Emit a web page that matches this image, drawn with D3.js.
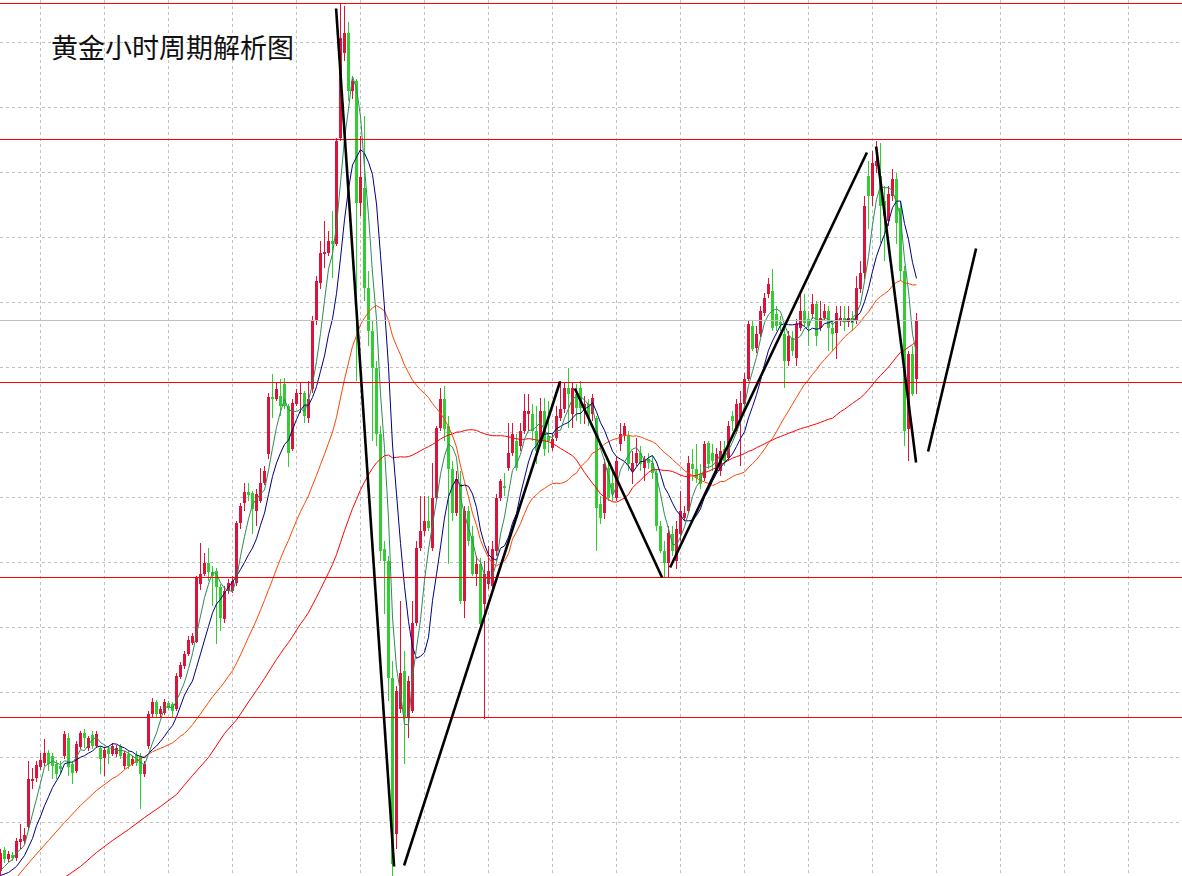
<!DOCTYPE html>
<html>
<head>
<meta charset="utf-8">
<script src="https://cdn.jsdelivr.net/npm/d3@7"></script>
<style>
  body { margin: 0; background: #fff; }
  svg { display: block; }
</style>
</head>
<body>
<script>
// hourly gold bars, one row per bar: [open, high, low, close]
const ohlc = [
  [2363.0,2365.2,2362.4,2364.8],[2365.1,2365.4,2363.8,2364.2],[2364.2,2365.0,2363.9,2364.7],[2364.6,2364.9,2364.0,2364.3],[2364.3,2366.3,2364.0,2366.0],
  [2365.9,2367.7,2365.2,2366.2],[2366.0,2367.3,2365.7,2366.6],[2367.4,2374.0,2367.1,2372.2],[2372.0,2373.3,2371.2,2372.2],[2372.3,2374.0,2371.9,2373.6],
  [2373.4,2374.8,2373.1,2374.1],[2373.8,2376.2,2373.5,2374.8],[2374.8,2375.1,2373.0,2373.7],[2374.5,2374.8,2372.2,2373.5],[2373.7,2374.1,2372.2,2372.7],
  [2373.5,2374.0,2372.8,2373.2],[2374.5,2377.0,2374.2,2376.7],[2376.3,2376.8,2372.5,2373.4],[2373.7,2374.0,2371.7,2372.8],[2373.0,2376.0,2372.8,2375.7],
  [2375.4,2377.0,2375.2,2376.8],[2376.8,2377.2,2375.3,2376.3],[2375.3,2376.5,2375.0,2376.3],[2376.6,2377.0,2375.2,2375.5],[2375.5,2377.0,2375.3,2376.7],
  [2375.3,2375.5,2372.7,2374.2],[2374.3,2375.4,2372.5,2375.1],[2375.2,2375.5,2373.7,2374.7],[2374.7,2375.8,2374.5,2375.5],[2374.7,2375.6,2374.4,2375.3],
  [2375.5,2375.7,2374.2,2374.5],[2373.5,2375.0,2373.2,2374.8],[2374.7,2375.0,2373.2,2373.5],[2373.7,2374.5,2373.5,2374.2],[2374.6,2375.0,2373.5,2373.8],
  [2374.5,2374.8,2369.2,2372.7],[2372.7,2374.0,2372.4,2373.7],[2375.5,2379.0,2375.2,2378.7],[2378.7,2380.3,2378.4,2379.9],[2379.9,2380.1,2378.4,2378.7],
  [2378.7,2379.5,2378.4,2379.2],[2378.8,2380.2,2378.6,2379.9],[2379.8,2380.0,2379.1,2379.3],[2379.7,2379.9,2378.4,2379.0],[2379.2,2382.8,2379.0,2382.5],
  [2382.4,2383.9,2382.2,2383.6],[2383.5,2385.0,2383.2,2384.7],[2384.7,2386.5,2384.5,2386.1],[2385.8,2386.8,2385.6,2386.5],[2385.9,2392.5,2385.8,2392.3],
  [2391.7,2395.8,2391.1,2392.7],[2392.7,2394.8,2392.5,2393.8],[2393.8,2395.3,2392.0,2392.9],[2392.9,2393.5,2389.5,2392.5],[2393.0,2393.3,2385.7,2391.4],
  [2391.4,2391.7,2387.0,2388.3],[2388.2,2391.5,2387.8,2391.0],[2391.0,2392.2,2390.7,2391.8],[2391.0,2392.5,2390.8,2392.0],[2391.8,2398.0,2391.5,2397.8],
  [2397.8,2399.8,2397.2,2399.5],[2399.8,2401.8,2399.0,2400.9],[2400.9,2401.8,2400.0,2400.6],[2400.8,2401.0,2396.7,2399.2],[2399.0,2401.2,2397.5,2400.7],
  [2400.0,2403.3,2399.8,2401.8],[2401.8,2403.5,2401.6,2403.0],[2404.7,2410.8,2404.2,2410.4],[2410.4,2412.7,2408.3,2410.2],[2410.2,2411.8,2410.0,2411.2],
  [2410.5,2412.2,2408.5,2409.5],[2411.7,2412.3,2409.2,2409.5],[2409.5,2409.7,2403.4,2404.8],[2405.2,2410.2,2405.0,2409.8],[2409.7,2411.2,2409.5,2410.8],
  [2410.7,2411.9,2408.8,2410.8],[2410.8,2411.0,2407.8,2408.5],[2408.3,2412.0,2407.8,2410.2],[2411.2,2418.5,2410.8,2418.0],[2418.0,2422.5,2417.6,2422.0],
  [2421.8,2426.0,2421.2,2424.8],[2424.7,2428.0,2423.3,2424.9],[2424.8,2427.0,2424.5,2426.0],[2426.0,2429.0,2422.3,2425.7],[2425.7,2436.3,2425.5,2436.0],
  [2436.3,2449.7,2436.0,2446.3],[2444.8,2449.5,2444.0,2446.8],[2446.8,2447.9,2440.0,2441.0],[2441.0,2442.2,2440.2,2442.0],[2442.0,2442.2,2412.0,2429.8],
  [2429.8,2436.5,2428.5,2432.4],[2431.3,2438.5,2420.0,2421.3],[2421.3,2423.0,2415.5,2417.0],[2417.0,2418.0,2406.0,2413.3],[2413.3,2414.0,2405.5,2406.7],
  [2406.7,2407.5,2394.0,2395.0],[2395.2,2396.0,2388.7,2394.0],[2394.0,2394.5,2380.0,2382.3],[2382.3,2384.0,2362.4,2363.7],[2366.7,2381.5,2365.2,2381.0],
  [2379.2,2390.0,2378.8,2382.8],[2383.0,2385.0,2373.7,2378.3],[2378.3,2382.5,2376.3,2382.0],[2379.0,2390.0,2378.8,2387.8],[2387.8,2396.0,2387.5,2395.3],
  [2395.3,2400.5,2395.0,2397.0],[2397.0,2400.5,2396.5,2398.0],[2398.0,2400.5,2397.0,2397.3],[2395.3,2403.8,2395.0,2400.3],[2400.3,2407.5,2400.0,2407.3],
  [2407.3,2411.3,2407.0,2410.2],[2410.2,2411.5,2406.0,2407.2],[2407.5,2408.5,2393.7,2403.2],[2403.2,2404.0,2398.0,2398.8],[2398.8,2403.0,2398.5,2402.2],
  [2401.7,2403.0,2389.7,2390.0],[2390.0,2399.5,2388.3,2399.0],[2399.0,2399.5,2395.5,2396.0],[2396.5,2397.5,2392.5,2392.7],[2392.7,2394.5,2391.5,2393.7],
  [2393.7,2394.3,2387.0,2387.7],[2389.7,2394.0,2378.2,2392.7],[2391.7,2395.5,2391.2,2393.0],[2391.5,2396.0,2391.0,2395.2],[2395.0,2400.7,2394.5,2400.3],
  [2400.3,2402.2,2400.0,2402.0],[2401.5,2402.8,2400.5,2401.3],[2403.3,2407.8,2403.0,2404.8],[2404.8,2407.8,2404.5,2406.7],[2406.0,2406.7,2403.0,2403.3],
  [2405.5,2407.8,2405.0,2407.0],[2407.0,2410.7,2406.7,2409.0],[2408.7,2410.7,2407.0,2409.0],[2408.7,2409.7,2406.0,2407.0],[2407.0,2409.5,2403.7,2405.0],
  [2406.0,2410.3,2405.5,2409.0],[2409.0,2410.3,2404.5,2405.2],[2406.5,2410.0,2404.8,2406.0],[2405.3,2406.7,2405.0,2406.2],[2406.3,2409.5,2406.0,2408.5],
  [2408.3,2412.0,2408.0,2409.2],[2409.2,2411.9,2408.8,2411.3],[2411.3,2413.3,2407.3,2410.7],[2408.7,2411.8,2407.3,2411.3],[2410.7,2411.7,2408.0,2409.3],
  [2411.3,2412.0,2407.7,2409.3],[2409.0,2410.5,2407.7,2409.7],[2409.7,2410.2,2407.5,2408.3],[2408.7,2410.7,2408.0,2410.3],[2408.3,2408.5,2395.0,2399.3],
  [2399.7,2400.5,2397.7,2398.3],[2398.8,2404.2,2398.2,2403.7],[2403.3,2404.0,2400.0,2400.3],[2401.8,2403.0,2400.0,2400.7],[2400.3,2404.5,2400.0,2404.0],
  [2405.7,2407.8,2405.0,2406.7],[2406.5,2407.8,2406.0,2407.5],[2406.5,2407.0,2403.0,2403.7],[2403.0,2405.0,2401.7,2403.8],[2403.8,2406.3,2403.5,2404.8],
  [2404.8,2405.5,2403.0,2403.7],[2403.3,2404.5,2402.0,2404.2],[2404.2,2404.8,2403.2,2403.8],[2403.8,2404.5,2402.2,2402.8],[2402.8,2403.2,2397.0,2397.5],
  [2397.5,2398.0,2394.8,2395.0],[2395.0,2396.0,2392.3,2393.8],[2393.8,2397.5,2392.3,2396.8],[2396.7,2397.5,2394.5,2395.0],[2394.0,2398.0,2393.2,2397.2],
  [2396.7,2401.0,2396.0,2399.0],[2398.3,2399.5,2398.0,2398.8],[2399.0,2404.5,2398.8,2403.8],[2403.7,2405.2,2402.0,2403.2],[2403.2,2405.7,2401.8,2402.3],
  [2402.7,2403.7,2401.2,2401.7],[2402.3,2406.0,2402.0,2405.7],[2405.8,2406.0,2403.2,2403.7],[2404.8,2405.7,2403.0,2404.0],[2403.0,2405.3,2402.7,2404.7],
  [2403.0,2406.0,2402.5,2405.0],[2405.2,2406.0,2403.5,2404.0],[2404.3,2408.0,2404.0,2407.5],[2408.5,2409.0,2407.0,2408.0],[2407.0,2410.2,2406.7,2409.7],
  [2408.3,2411.0,2403.5,2409.8],[2409.7,2412.8,2409.5,2412.2],[2412.2,2418.0,2412.0,2417.7],[2417.5,2418.0,2415.0,2415.2],[2415.3,2417.5,2414.8,2416.7],
  [2416.7,2419.5,2416.4,2419.0],[2418.8,2420.8,2418.5,2420.3],[2420.7,2422.3,2420.3,2421.7],[2421.0,2423.2,2417.0,2417.3],[2418.7,2419.5,2417.0,2417.5],
  [2417.9,2418.5,2417.0,2417.6],[2416.7,2417.5,2411.3,2414.0],[2414.0,2417.0,2413.5,2416.5],[2416.3,2417.0,2414.5,2415.0],[2414.3,2418.2,2413.5,2417.7],
  [2417.3,2420.8,2417.0,2419.0],[2419.0,2420.7,2417.5,2417.8],[2418.2,2419.0,2415.5,2417.5],[2418.7,2420.7,2418.2,2419.7],[2419.7,2420.0,2415.5,2416.5],
  [2417.3,2420.0,2417.0,2418.3],[2418.3,2419.7,2418.0,2419.0],[2419.0,2419.5,2415.0,2417.3],[2417.3,2418.0,2415.0,2416.7],[2416.8,2419.5,2414.2,2418.8],
  [2418.0,2419.5,2417.5,2418.3],[2418.3,2419.5,2417.0,2418.0],[2417.9,2419.5,2417.4,2418.3],[2418.3,2419.0,2417.0,2417.8],[2418.0,2422.5,2417.7,2421.3],
  [2421.2,2424.0,2420.8,2422.8],[2422.8,2430.5,2422.2,2429.5],[2432.5,2434.0,2427.2,2430.5],[2430.5,2435.0,2429.5,2433.8],[2433.5,2436.0,2432.8,2434.0],
  [2432.5,2435.8,2425.8,2429.5],[2430.0,2431.5,2424.0,2428.5],[2428.0,2431.5,2427.5,2430.7],[2430.5,2433.2,2430.0,2432.2],[2432.2,2432.8,2425.7,2427.8],
  [2429.3,2430.0,2422.0,2423.0],[2423.0,2423.5,2405.5,2407.0],[2407.2,2415.0,2404.0,2414.7],[2414.7,2415.5,2410.5,2410.7],[2412.2,2418.8,2410.7,2418.0]
];

// moving averages before their window is complete
const lead5Bars = [0, 1, 2, 3];
const lead5 = [2363.0, 2363.4, 2363.8, 2364.1];
const lead10Bars = [0, 2, 4, 6, 8];
const lead10 = [2362.5, 2362.8, 2363.4, 2364.5, 2366.2];
const lead30Bars = [4, 8, 12, 16, 20, 24, 28];
const lead30 = [2362.3, 2364.2, 2366.0, 2367.8, 2369.5, 2371.0, 2372.2];
const lead60Bars = [16, 20, 24, 28, 32, 36, 40, 44, 48, 52, 56];
const lead60 = [2362.3, 2363.4, 2364.8, 2366.0, 2367.1, 2368.3, 2369.4, 2370.6, 2372.5, 2374.3, 2376.7];

// horizontal levels
const levelPrices = [2449.7, 2436.1, 2411.8, 2392.3, 2378.3];
const bidPrice = 2418.0;

// grid
const gridPrices = [2445.8, 2439.3, 2432.8, 2426.3, 2419.8, 2413.3, 2406.8, 2400.3, 2393.8, 2387.3, 2380.8, 2374.3, 2367.8];
const gridBars = [10, 26, 42, 58, 74, 90, 106, 122, 138, 154, 170, 186, 202, 218, 234, 250, 266, 282];

// hand drawn trend lines: [barFrom, priceFrom, barTo, priceTo]
const trendLines = [
  [83.9, 2449.2, 98.4, 2363.4],
  [100.9, 2363.5, 139.9, 2411.9],
  [143.6, 2411.2, 165.4, 2392.3],
  [167.4, 2393.3, 216.6, 2434.8],
  [218.9, 2435.4, 228.9, 2403.8],
  [231.9, 2404.9, 243.9, 2425.2]
];

const W = 1182, H = 876;

let svg = d3.select('body').append('svg')
    .attr('width', W)
    .attr('height', H)
    .style('background-color', 'white');

let x = d3.scaleLinear().domain([0, 295]).range([0.5, 1180.5]);
let y = d3.scaleLinear().domain([2362.4, 2450]).range([876.5, 0.5]);

// dashed grid
svg.selectAll('.vgrid')
    .data(gridBars)
    .enter()
    .append('line')
    .attr('class', 'vgrid')
    .attr('x1', d => x(d)).attr('x2', d => x(d))
    .attr('y1', 0).attr('y2', H)
    .attr('stroke', '#c0c0c0')
    .attr('stroke-dasharray', '3,3');

svg.selectAll('.hgrid')
    .data(gridPrices)
    .enter()
    .append('line')
    .attr('class', 'hgrid')
    .attr('x1', 0).attr('x2', W)
    .attr('y1', d => y(d)).attr('y2', d => y(d))
    .attr('stroke', '#c0c0c0')
    .attr('stroke-dasharray', '3,3');

// candles: red = up, green = down
let candleColor = d => d[3] >= d[0] ? '#dc143c' : '#32cd32';
let bars = svg.append('g').attr('shape-rendering', 'crispEdges');

bars.selectAll('.wick')
    .data(ohlc)
    .enter()
    .append('line')
    .attr('class', 'wick')
    .attr('x1', (d, i) => x(i)).attr('x2', (d, i) => x(i))
    .attr('y1', d => y(d[1])).attr('y2', d => y(d[2]))
    .attr('stroke', candleColor);

bars.selectAll('.body')
    .data(ohlc)
    .enter()
    .append('rect')
    .attr('class', 'body')
    .attr('x', (d, i) => x(i) - 1.5)
    .attr('width', 3)
    .attr('y', d => y(Math.max(d[0], d[3])))
    .attr('height', d => Math.max(1, Math.abs(y(d[0]) - y(d[3]))))
    .attr('fill', candleColor);

// simple moving averages of the closes
let closes = ohlc.map(d => d[3]);
function sma(n) {
    let out = [];
    for (let i = n - 1; i < closes.length; i++) {
        out.push([i, d3.mean(closes.slice(i - n + 1, i + 1))]);
    }
    return out;
}

let maLine = d3.line().x(d => x(d[0])).y(d => y(d[1]));
let maSets = [
    [lead60Bars, lead60, 60, '#ff0000'],
    [lead30Bars, lead30, 30, '#ff4500'],
    [lead10Bars, lead10, 10, '#000080'],
    [lead5Bars, lead5, 5, '#2e8b57']
];
maSets.forEach(m => {
    let pts = m[0].map((b, j) => [b, m[1][j]]).concat(sma(m[2]));
    svg.append('path')
        .datum(pts)
        .attr('d', maLine)
        .attr('fill', 'none')
        .attr('stroke', m[3])
        .attr('stroke-width', 1);
});

// levels
let levels = svg.append('g').attr('shape-rendering', 'crispEdges');
levels.selectAll('.level')
    .data(levelPrices)
    .enter()
    .append('line')
    .attr('class', 'level')
    .attr('x1', 0).attr('x2', W)
    .attr('y1', d => y(d)).attr('y2', d => y(d))
    .attr('stroke', '#ff0000');

levels.append('line')
    .attr('x1', 0).attr('x2', W)
    .attr('y1', y(bidPrice)).attr('y2', y(bidPrice))
    .attr('stroke', '#c0c0c0');

// trend lines
svg.selectAll('.trend')
    .data(trendLines)
    .enter()
    .append('line')
    .attr('class', 'trend')
    .attr('x1', d => x(d[0])).attr('y1', d => y(d[1]))
    .attr('x2', d => x(d[2])).attr('y2', d => y(d[3]))
    .attr('stroke', '#000')
    .attr('stroke-width', 2.6);

svg.append('text')
    .attr('x', 51)
    .attr('y', 58)
    .attr('font-family', '"Noto Sans CJK SC", "Noto Sans", sans-serif')
    .attr('font-size', 27)
    .attr('fill', '#111')
    .text('黄金小时周期解析图');
</script>
</body>
</html>
